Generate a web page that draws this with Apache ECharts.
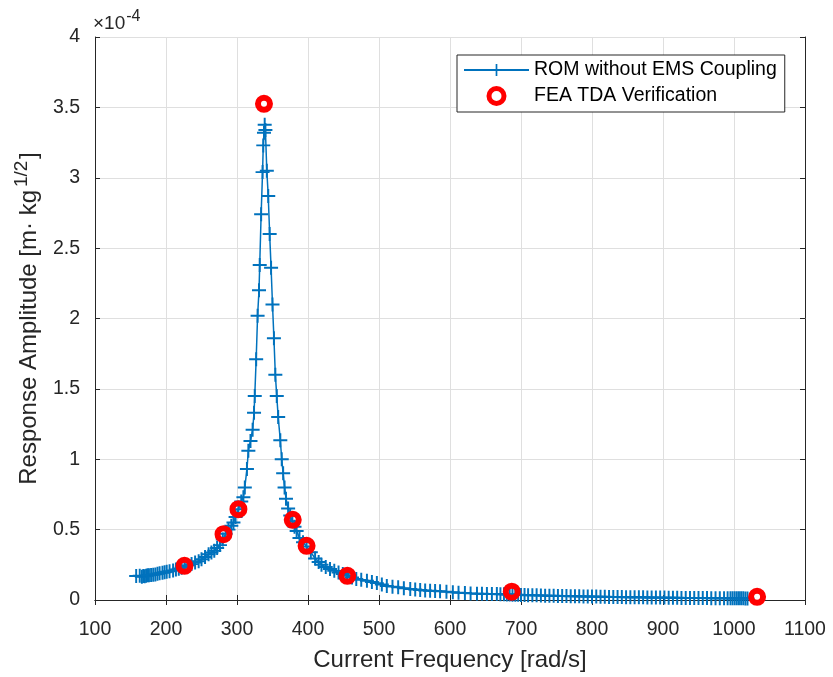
<!DOCTYPE html>
<html>
<head>
<meta charset="utf-8">
<script src="https://cdn.jsdelivr.net/npm/echarts@6/dist/echarts.min.js"></script>
<style>html,body{margin:0;padding:0;background:#fff}#c{width:833px;height:677px}</style>
</head>
<body>
<div id="c"></div>
<script>
// Values in units of 1e-4 m·kg^(1/2)
const romFreq = [158,163,166,168,170,172,174,176,179,182,185,188,191,195,198,201,205,210,214,218,222,226,231,236,241,246,250,255,260,264,268,272,276,280,284,288,292,295,298,302,306,309,311,314,316,319,322,324,325,327,329,331,332,334,336,337,338,339,
  340,342,344,346,348,350,352,354,356,358,361,363,365,367,369,372,375,378,381,384,388,393,398,404,410,415,419,425,431,437,443,449,455,462,468,475,483,490,497,504,511,519,527,535,544,551,558,565,572,579,586,595,604,612,621,629,638,645,652,659,666,671,676,680,684,688,692,696,700,705,710,716,722,728,734,740,746,752,758,764,770,776,782,788,794,800,806,812,818,824,830,836,842,848,854,860,866,872,878,884,890,896,902,908,914,920,926,932,938,944,950,956,962,968,974,980,986,991,995,998,1001,1004,1007,1010,1013,1016,1019,1022,1025];
const romAmp = [0.170,0.172,0.165,0.170,0.168,0.172,0.175,0.176,0.178,0.180,0.182,0.186,0.190,0.194,0.197,0.200,0.205,0.210,0.216,0.222,0.230,0.238,0.246,0.255,0.266,0.275,0.290,0.305,0.325,0.338,0.350,0.370,0.390,0.430,0.470,0.500,0.527,0.550,0.590,0.645,0.700,0.730,0.800,0.930,1.060,1.130,1.210,1.330,1.450,1.710,2.020,2.200,2.380,2.740,3.040,3.230,3.320,3.376,
  3.340,3.050,2.870,2.600,2.360,2.100,1.860,1.600,1.450,1.300,1.135,1.000,0.900,0.800,0.720,0.650,0.600,0.560,0.520,0.490,0.440,0.410,0.380,0.340,0.295,0.270,0.250,0.235,0.220,0.207,0.196,0.184,0.172,0.160,0.149,0.143,0.137,0.128,0.120,0.110,0.100,0.095,0.090,0.084,0.078,0.074,0.071,0.068,0.066,0.064,0.062,0.058,0.055,0.052,0.050,0.047,0.045,0.044,0.043,0.043,0.042,0.041,0.040,0.039,0.039,0.038,0.038,0.037,0.036,0.035,0.034,0.033,0.033,0.032,0.031,0.030,0.030,0.029,0.028,0.028,0.027,0.026,0.026,0.025,0.025,0.024,0.024,0.023,0.023,0.022,0.022,0.021,0.021,0.020,0.020,0.019,0.019,0.019,0.018,0.018,0.017,0.017,0.017,0.016,0.016,0.016,0.015,0.015,0.015,0.014,0.014,0.014,0.014,0.013,0.013,0.013,0.013,0.013,0.012,0.012,0.012,0.012,0.012,0.012,0.012,0.011,0.011];
const feaFreq = [226,281,302,338,378.5,398,455.4,687,1032.5];
const feaAmp = [0.243,0.468,0.645,3.525,0.57,0.385,0.172,0.059,0.023];
const xTicks = [100,200,300,400,500,600,700,800,900,1000,1100];
const yTicks = [0,0.5,1,1.5,2,2.5,3,3.5,4];

const romData = romFreq.map((f,i)=>[f,romAmp[i]]);
const feaData = feaFreq.map((f,i)=>[f,feaAmp[i]]);
const dark = '#262626';
const font = 'Liberation Sans, Arial, Helvetica, sans-serif';
const plus = 'path://M4.3,0 H5.7 V4.3 H10 V5.7 H5.7 V10 H4.3 V5.7 H0 V4.3 H4.3 Z';

const chart = echarts.init(document.getElementById('c'), null, {renderer:'canvas'});
chart.setOption({
  animation:false,
  backgroundColor:'#fff',
  textStyle:{fontFamily:font},
  grid:{left:95,right:28,top:37,bottom:76,containLabel:false},
  graphic:[{type:'text',left:93,top:9,style:{text:'×10{s|-4}',fill:dark,font:'19px '+font,rich:{s:{fontSize:16,fill:dark,fontFamily:font,padding:[0,0,14,1]}}}}],
  legend:{
    orient:'vertical',left:457,top:55,width:330,
    padding:[5,8,6,6],itemGap:6,itemWidth:65,itemHeight:15,
    borderColor:dark,borderWidth:1,backgroundColor:'#fff',
    textStyle:{fontFamily:font,fontSize:19.5,color:'#000'},
    data:[{name:'ROM without EMS Coupling'},
          {name:'FEA TDA Verification',icon:'circle',itemStyle:{color:'rgba(255,255,255,0)',borderColor:'#ff0000',borderWidth:5}}]
  },
  xAxis:[{
    type:'value',min:100,max:1100,interval:100,
    name:'Current Frequency [rad/s]',nameLocation:'middle',nameGap:48,
    nameTextStyle:{fontFamily:font,fontSize:24,color:dark},
    axisLine:{show:true,lineStyle:{color:dark,width:1}},
    axisTick:{show:true,inside:true,length:5,lineStyle:{color:dark}},
    axisLabel:{fontFamily:font,fontSize:19.5,color:dark,margin:20,formatter:v=>xTicks.includes(v)?String(v):''},
    splitLine:{show:true,lineStyle:{color:'#dfdfdf',width:1}}
  },{
    type:'value',position:'top',min:100,max:1100,interval:100,
    axisLine:{show:true,lineStyle:{color:dark,width:1}},
    axisTick:{show:true,inside:true,length:5,lineStyle:{color:dark}},
    axisLabel:{show:false},splitLine:{show:false}
  }],
  yAxis:[{
    type:'value',min:0,max:4,interval:0.5,
    name:'Response Amplitude [m· kg{s|1/2}{g| }]',nameLocation:'middle',nameGap:49,nameRotate:90,
    nameTextStyle:{fontFamily:font,fontSize:24,color:dark,rich:{s:{fontSize:19,color:dark,fontFamily:font,padding:[0,0,15,3]},g:{fontSize:6}}},
    axisLine:{show:true,lineStyle:{color:dark,width:1}},
    axisTick:{show:true,inside:true,length:5,lineStyle:{color:dark}},
    axisLabel:{fontFamily:font,fontSize:19.5,color:dark,margin:15,formatter:v=>yTicks.includes(v)?String(v):''},
    splitLine:{show:true,lineStyle:{color:'#dfdfdf',width:1}}
  },{
    type:'value',position:'right',min:0,max:4,interval:0.5,
    axisLine:{show:true,lineStyle:{color:dark,width:1}},
    axisTick:{show:true,inside:true,length:5,lineStyle:{color:dark}},
    axisLabel:{show:false},splitLine:{show:false}
  }],
  series:[{
    name:'ROM without EMS Coupling',type:'line',data:romData,
    showSymbol:true,showAllSymbol:true,symbol:plus,symbolSize:14,
    lineStyle:{color:'#0072BD',width:1.5},itemStyle:{color:'#0072BD'},
    z:2
  },{
    name:'FEA TDA Verification',type:'scatter',data:feaData,
    symbol:'circle',symbolSize:12,
    itemStyle:{color:'rgba(255,255,255,0)',borderColor:'#ff0000',borderWidth:6,opacity:1},
    z:3
  }]
});
</script>
</body>
</html>
